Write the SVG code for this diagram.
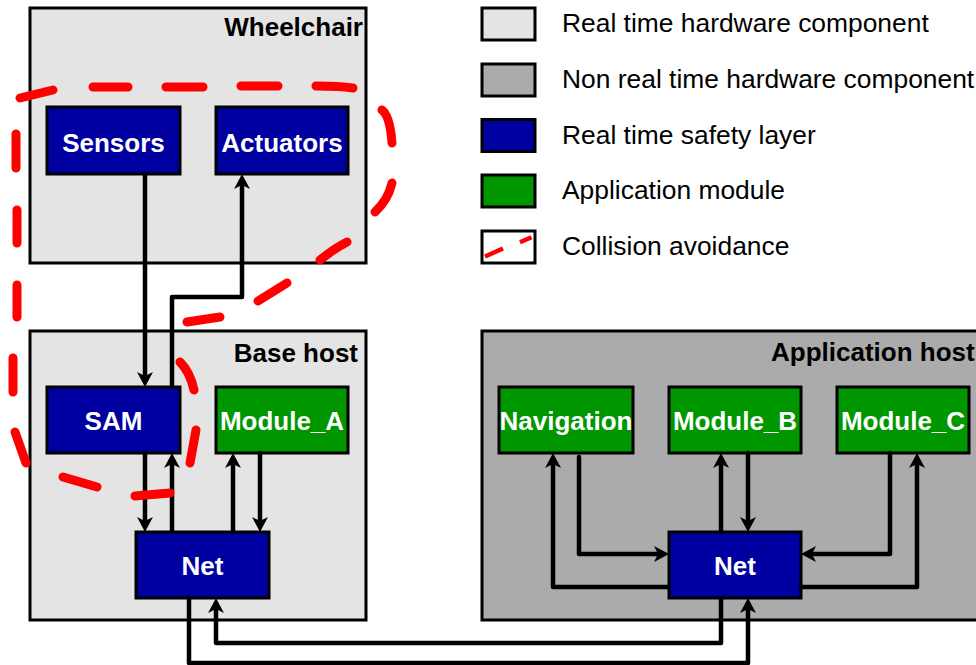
<svg xmlns="http://www.w3.org/2000/svg" width="976" height="665" viewBox="0 0 976 665">
  <style>
    .host-rt { fill: #e4e4e4; stroke: #000; stroke-width: 3; }
    .host-nrt { fill: #ababab; stroke: #000; stroke-width: 3; }
    .safety { fill: #0000a0; stroke: #000; stroke-width: 3; }
    .app { fill: #009600; stroke: #000; stroke-width: 3; }
    .host-title { font-family: "Liberation Sans", Arial, sans-serif; font-weight: bold; font-size: 26px; fill: #000; }
    .node-label { font-family: "Liberation Sans", Arial, sans-serif; font-weight: bold; font-size: 26px; fill: #fff; text-anchor: middle; }
    .legend-label { font-family: "Liberation Sans", Arial, sans-serif; font-size: 26.4px; fill: #000; }
    .wire { fill: none; stroke: #000; stroke-width: 4.5; stroke-linejoin: round; stroke-linecap: round; }
    .arrow { marker-end: url(#head); }
    .zone { fill: none; stroke: #ff0000; stroke-width: 9; stroke-linecap: round; stroke-linejoin: round; }
  </style>
  <defs>
    <!-- notched arrowhead; the line ends at the notch, the tip sits 11px further on -->
    <marker id="head" markerUnits="userSpaceOnUse" markerWidth="20" markerHeight="20" refX="0" refY="0" orient="auto" overflow="visible">
      <path d="M11,0 L-4,-8 L0,0 L-4,8 Z" fill="#000"/>
    </marker>
  </defs>

  <!-- hosts -->
  <g id="wheelchair">
    <rect class="host-rt" x="30" y="8" width="336" height="255"/>
    <text class="host-title" x="363" y="36" text-anchor="end">Wheelchair</text>
  </g>
  <g id="base-host">
    <rect class="host-rt" x="30" y="331" width="336" height="289"/>
    <text class="host-title" x="358" y="362" text-anchor="end">Base host</text>
  </g>
  <g id="application-host">
    <rect class="host-nrt" x="482" y="331" width="510" height="289"/>
    <text class="host-title" x="771" y="361">Application host</text>
  </g>

  <!-- modules -->
  <g id="sensors">
    <rect class="safety" x="47" y="107" width="133" height="67"/>
    <text class="node-label" x="113.5" y="151.5">Sensors</text>
  </g>
  <g id="actuators">
    <rect class="safety" x="216" y="107" width="132" height="67"/>
    <text class="node-label" x="282" y="151.5">Actuators</text>
  </g>
  <g id="sam">
    <rect class="safety" x="47" y="387" width="133" height="66"/>
    <text class="node-label" x="113.5" y="430">SAM</text>
  </g>
  <g id="module-a">
    <rect class="app" x="216" y="387" width="132" height="66"/>
    <text class="node-label" x="282" y="430">Module_A</text>
  </g>
  <g id="net-base">
    <rect class="safety" x="136" y="532" width="133" height="66"/>
    <text class="node-label" x="202.5" y="575">Net</text>
  </g>
  <g id="navigation">
    <rect class="app" x="499" y="387" width="134" height="66"/>
    <text class="node-label" x="566" y="430">Navigation</text>
  </g>
  <g id="module-b">
    <rect class="app" x="669" y="387" width="132" height="66"/>
    <text class="node-label" x="735" y="430">Module_B</text>
  </g>
  <g id="module-c">
    <rect class="app" x="837" y="387" width="132" height="66"/>
    <text class="node-label" x="903" y="430">Module_C</text>
  </g>
  <g id="net-app">
    <rect class="safety" x="669" y="532" width="132" height="66"/>
    <text class="node-label" x="735" y="575">Net</text>
  </g>

  <!-- connectors -->
  <g id="connectors">
    <path class="wire arrow" d="M145,174 V376"/>
    <path class="wire arrow" d="M172,387 V297 H242 V185"/>
    <path class="wire arrow" d="M145,453 V521"/>
    <path class="wire arrow" d="M172,532 V464"/>
    <path class="wire arrow" d="M233,532 V464"/>
    <path class="wire arrow" d="M260,453 V521"/>
    <path class="wire arrow" d="M189,598 V663 H748 V609"/>
    <path class="wire arrow" d="M721,598 V643 H216 V609"/>
    <path class="wire arrow" d="M669,587 H553 V464"/>
    <path class="wire arrow" d="M579,457 V554 H658"/>
    <path class="wire arrow" d="M721,532 V464"/>
    <path class="wire arrow" d="M748,453 V521"/>
    <path class="wire arrow" d="M890,453 V554 H812"/>
    <path class="wire arrow" d="M801,587 H917 V464"/>
  </g>

  <!-- collision avoidance zone, hand-drawn dashed loop -->
  <g id="collision-avoidance">
    <path class="zone" d="M20,98 L53,90 M93,87 L128,87 M166,87 L203,87 M241,86 L278,86 M316,86 Q340,86 353,88
      M382,110 Q390,116 392,143 M392,183 Q388,200 375,212
      M347,242 Q335,248 320,260 M287,283 L258,301 M220,317 L187,322
      M180,362 Q190,372 194,390 M196,430 L190,463 M170,493 L135,496
      M97,487 L63,477 M26,463 L15,432 M13,392 L13,358 M17,317 L17,285 M17,243 L17,210 M16,168 L16,134"/>
  </g>

  <!-- legend -->
  <g id="legend">
    <rect class="host-rt" x="482" y="8" width="53" height="32"/>
    <text class="legend-label" x="562" y="32">Real time hardware component</text>
    <rect class="host-nrt" x="482" y="64" width="53" height="32"/>
    <text class="legend-label" x="562" y="88">Non real time hardware component</text>
    <rect class="safety" x="482" y="119.5" width="53" height="32"/>
    <text class="legend-label" x="562" y="143.5">Real time safety layer</text>
    <rect class="app" x="482" y="175" width="53" height="32"/>
    <text class="legend-label" x="562" y="199">Application module</text>
    <rect x="482" y="231" width="53" height="32" fill="#fff" stroke="#000" stroke-width="3"/>
    <path d="M485,256.5 L503,248.5 M520,242.3 L531.5,237.3" fill="none" stroke="#ff0000" stroke-width="4.5"/>
    <text class="legend-label" x="562" y="255">Collision avoidance</text>
  </g>
</svg>
